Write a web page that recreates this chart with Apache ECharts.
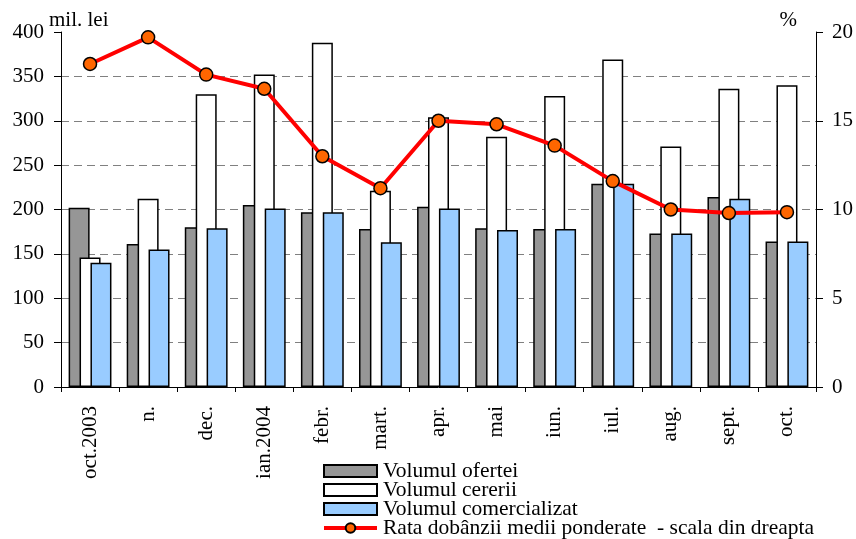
<!DOCTYPE html>
<html>
<head>
<meta charset="utf-8">
<script src="https://cdn.jsdelivr.net/npm/echarts@6/dist/echarts.min.js"></script>
<style>
html,body{margin:0;padding:0;background:#fff;}
#chart{width:856px;height:539px;}
</style>
</head>
<body>
<div id="chart"></div>
<script>
const categories = ['oct.2003','n.','dec.','ian.2004','febr.','mart.','apr.','mai','iun.','iul.','aug.','sept.','oct.'];
const volumOferta = [202, 161, 180, 205, 197, 178, 203, 179, 178, 229, 173, 214, 164];
const volumCerere = [146, 212, 330, 352, 388, 221, 304, 282, 328, 369, 271, 336, 340];
const volumComercializat = [140, 155, 179, 201, 197, 163, 201, 177, 178, 229, 173, 212, 164];
const rataDobanzii = [18.2, 19.7, 17.6, 16.8, 13.0, 11.2, 15.0, 14.8, 13.6, 11.6, 10.0, 9.8, 9.85];
const leftTicks = {min: 0, max: 400, interval: 50};
const rightTicks = {min: 0, max: 20, interval: 5};
const names = ['Volumul ofertei', 'Volumul cererii', 'Volumul comercializat', 'Rata dobânzii medii ponderate  - scala din dreapta'];

const FONT = 'Liberation Serif';
const chart = echarts.init(document.getElementById('chart'), null, {renderer: 'canvas'});

const barBase = {
  type: 'bar',
  barWidth: 21,
  barGap: '-48%',
  yAxisIndex: 0,
  z: 2
};

chart.setOption({
  animation: false,
  backgroundColor: '#ffffff',
  textStyle: {fontFamily: FONT, color: '#000'},
  grid: {left: 61, right: 40, top: 32, bottom: 152, containLabel: false},
  legend: {
    orient: 'vertical',
    left: 322,
    top: 460,
    height: 200,
    itemWidth: 53,
    itemHeight: 12,
    itemGap: -3,
    padding: 0,
    lineStyle: {width: 4},
    textStyle: {fontFamily: FONT, fontSize: 21.5, color: '#000', lineHeight: 19, padding: [0, 0, 0, 1]},
    data: [
      {name: names[0], icon: 'rect'},
      {name: names[1], icon: 'rect'},
      {name: names[2], icon: 'rect'},
      {name: names[3], lineStyle: {width: 4, color: '#FF0000'}}
    ]
  },
  xAxis: {
    type: 'category',
    data: categories,
    boundaryGap: true,
    axisLine: {show: true, lineStyle: {color: '#000', width: 1}},
    axisTick: {show: true, alignWithLabel: false, length: 5, lineStyle: {color: '#000'}},
    axisLabel: {rotate: 90, interval: 0, margin: 19, fontFamily: FONT, fontSize: 21, color: '#000'},
    splitLine: {show: false}
  },
  yAxis: [
    {
      type: 'value',
      min: leftTicks.min, max: leftTicks.max, interval: leftTicks.interval,
      position: 'left',
      name: 'mil. lei',
      nameLocation: 'end',
      nameGap: 12,
      nameMoveOverlap: false,
      nameTextStyle: {fontFamily: FONT, fontSize: 21, color: '#000', align: 'left', verticalAlign: 'middle', padding: [0, 0, 0, -12]},
      axisLine: {show: true, lineStyle: {color: '#000', width: 1}},
      axisTick: {show: true, inside: false, length: 7, lineStyle: {color: '#000'}},
      axisLabel: {margin: 17, fontFamily: FONT, fontSize: 21, color: '#000'},
      splitLine: {show: true, showMinLine: false, showMaxLine: false, lineStyle: {color: '#808080', type: [8, 5], width: 1}}
    },
    {
      type: 'value',
      min: rightTicks.min, max: rightTicks.max, interval: rightTicks.interval,
      position: 'right',
      name: '%',
      nameLocation: 'end',
      nameGap: 12,
      nameMoveOverlap: false,
      nameTextStyle: {fontFamily: FONT, fontSize: 21, color: '#000', align: 'right', verticalAlign: 'middle', padding: [0, 19, 0, 0]},
      axisLine: {show: true, lineStyle: {color: '#000', width: 1}},
      axisTick: {show: true, inside: false, length: 7, lineStyle: {color: '#000'}},
      axisLabel: {margin: 16, fontFamily: FONT, fontSize: 21, color: '#000'},
      splitLine: {show: false}
    }
  ],
  series: [
    Object.assign({}, barBase, {
      name: names[0],
      data: volumOferta,
      itemStyle: {color: '#969696', borderColor: '#000', borderWidth: 1.5}
    }),
    Object.assign({}, barBase, {
      name: names[1],
      data: volumCerere,
      itemStyle: {color: '#ffffff', borderColor: '#000', borderWidth: 1.5}
    }),
    Object.assign({}, barBase, {
      name: names[2],
      data: volumComercializat,
      itemStyle: {color: '#99CCFF', borderColor: '#000', borderWidth: 1.5}
    }),
    {
      name: names[3],
      type: 'line',
      yAxisIndex: 1,
      data: rataDobanzii,
      z: 5,
      symbol: 'circle',
      symbolSize: 13,
      showAllSymbol: true,
      lineStyle: {color: '#FF0000', width: 4},
      itemStyle: {color: '#FF6600', borderColor: '#000', borderWidth: 1.5}
    }
  ]
});
</script>
</body>
</html>
